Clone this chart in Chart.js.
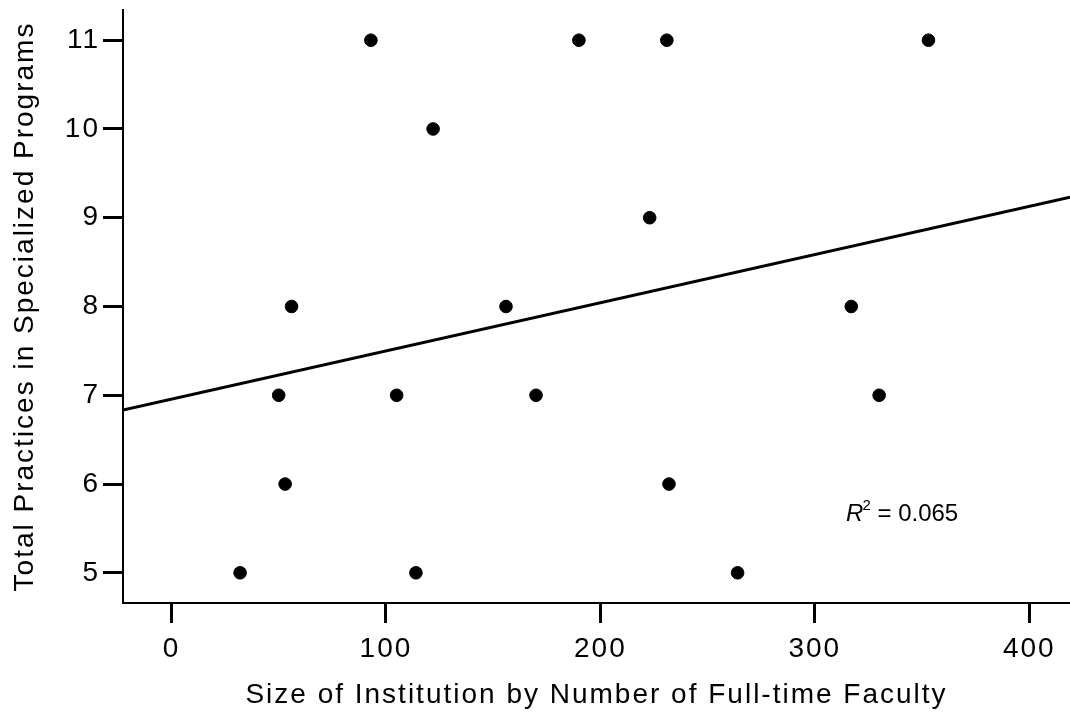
<!DOCTYPE html>
<html>
<head>
<meta charset="utf-8">
<script src="https://cdn.jsdelivr.net/npm/chart.js@4.4.0/dist/chart.umd.min.js"></script>
<style>
  html, body { margin: 0; padding: 0; background: #fff; }
  canvas { display: block; }
</style>
</head>
<body>
<canvas id="chart" width="1070" height="715"></canvas>
<script>
// faculty size (x) and total practices (y) for each institution
const facultySize = [32, 50, 53, 56, 93, 105, 114, 122, 156, 170, 190, 223, 231, 232, 264, 317, 330, 353];
const practices   = [5, 7, 6, 8, 11, 7, 5, 10, 8, 7, 11, 9, 11, 6, 5, 8, 7, 11];
const xTicks = [0, 100, 200, 300, 400];
const yTicks = [5, 6, 7, 8, 9, 10, 11];
const xRange = [-22.6, 419];
const yRange = [4.66, 11.34];
const rSquaredLabel = '0.065';

const FONT = '"Liberation Sans", Arial, sans-serif';
const SPACING = '2px'; // the original labels are set a bit wider than Arial

// least squares fit line, drawn across the whole x range
function fitLine(xs, ys) {
    const n = xs.length;
    const mx = xs.reduce((a, b) => a + b, 0) / n;
    const my = ys.reduce((a, b) => a + b, 0) / n;
    let sxy = 0, sxx = 0;
    for (let i = 0; i < n; i++) {
        sxy += (xs[i] - mx) * (ys[i] - my);
        sxx += (xs[i] - mx) * (xs[i] - mx);
    }
    const slope = sxy / sxx;
    const intercept = my - slope * mx;
    return xRange.map(x => ({ x: x, y: intercept + slope * x }));
}

const points = facultySize.map((x, i) => ({ x: x, y: practices[i] }));

const spacingPlugin = {
    id: 'spacing',
    beforeUpdate(chart) { chart.ctx.letterSpacing = SPACING; },
    beforeLayout(chart) { chart.ctx.letterSpacing = SPACING; },
    beforeDraw(chart) { chart.ctx.letterSpacing = SPACING; }
};

// R² text sitting in the lower right corner
const rSquaredPlugin = {
    id: 'rSquared',
    afterDatasetsDraw(chart) {
        const ctx = chart.ctx;
        const x = chart.scales.x.getPixelForValue(314.6);
        const y = chart.scales.y.getPixelForValue(5.58);
        ctx.save();
        ctx.letterSpacing = '0px';
        ctx.fillStyle = '#000';
        ctx.textBaseline = 'alphabetic';
        ctx.textAlign = 'left';
        ctx.font = 'italic 24px ' + FONT;
        ctx.fillText('R', x, y);
        let w = ctx.measureText('R').width;
        ctx.font = '15px ' + FONT;
        ctx.fillText('2', x + w - 1, y - 11);
        w += ctx.measureText('2').width - 1;
        ctx.font = '24px ' + FONT;
        ctx.fillText(' = ' + rSquaredLabel, x + w, y);
        ctx.restore();
    }
};

const ctx = document.getElementById('chart').getContext('2d');
const chart = new Chart(ctx, {
    type: 'scatter',
    data: {
        datasets: [
            {
                label: 'Institutions',
                data: points,
                backgroundColor: '#000',
                borderColor: '#000',
                pointRadius: 6.3,
                pointHoverRadius: 6.3
            },
            {
                type: 'line',
                label: 'Fit',
                data: fitLine(facultySize, practices),
                borderColor: '#000',
                borderWidth: 3,
                pointRadius: 0,
                fill: false
            }
        ]
    },
    options: {
        responsive: false,
        animation: false,
        events: [],
        layout: { autoPadding: false, padding: { top: 10, right: 0, left: 0, bottom: 0 } },
        plugins: {
            legend: { display: false },
            tooltip: { enabled: false }
        },
        scales: {
            x: {
                type: 'linear',
                min: xRange[0],
                max: xRange[1],
                afterBuildTicks: scale => { scale.ticks = xTicks.map(v => ({ value: v })); },
                afterFit: scale => {
                    scale.height = 112;
                    scale.paddingLeft = 0;
                    scale.paddingRight = 0;
                },
                border: { display: true, color: '#000', width: 2 },
                grid: {
                    drawOnChartArea: false,
                    drawTicks: true,
                    tickLength: 20,
                    tickColor: '#000',
                    tickWidth: 3
                },
                ticks: {
                    color: '#000',
                    font: { family: FONT, size: 28 },
                    padding: 9,
                    maxRotation: 0
                },
                title: {
                    display: true,
                    text: 'Size of Institution by Number of Full-time Faculty',
                    color: '#000',
                    font: { family: FONT, size: 28 },
                    padding: { top: 0, bottom: 3 }
                }
            },
            y: {
                type: 'linear',
                min: yRange[0],
                max: yRange[1],
                afterBuildTicks: scale => { scale.ticks = yTicks.map(v => ({ value: v })); },
                afterFit: scale => {
                    scale.width = 123;
                    scale.paddingTop = 0;
                    scale.paddingBottom = 0;
                },
                border: { display: true, color: '#000', width: 2 },
                grid: {
                    drawOnChartArea: false,
                    drawTicks: true,
                    tickLength: 20,
                    tickColor: '#000',
                    tickWidth: 3
                },
                ticks: {
                    color: '#000',
                    font: { family: FONT, size: 28 },
                    padding: 3
                },
                title: {
                    display: true,
                    text: 'Total Practices in Specialized Programs',
                    color: '#000',
                    font: { family: FONT, size: 28 },
                    padding: { top: 8, bottom: 0 }
                }
            }
        }
    },
    plugins: [spacingPlugin, rSquaredPlugin]
});
</script>
</body>
</html>
